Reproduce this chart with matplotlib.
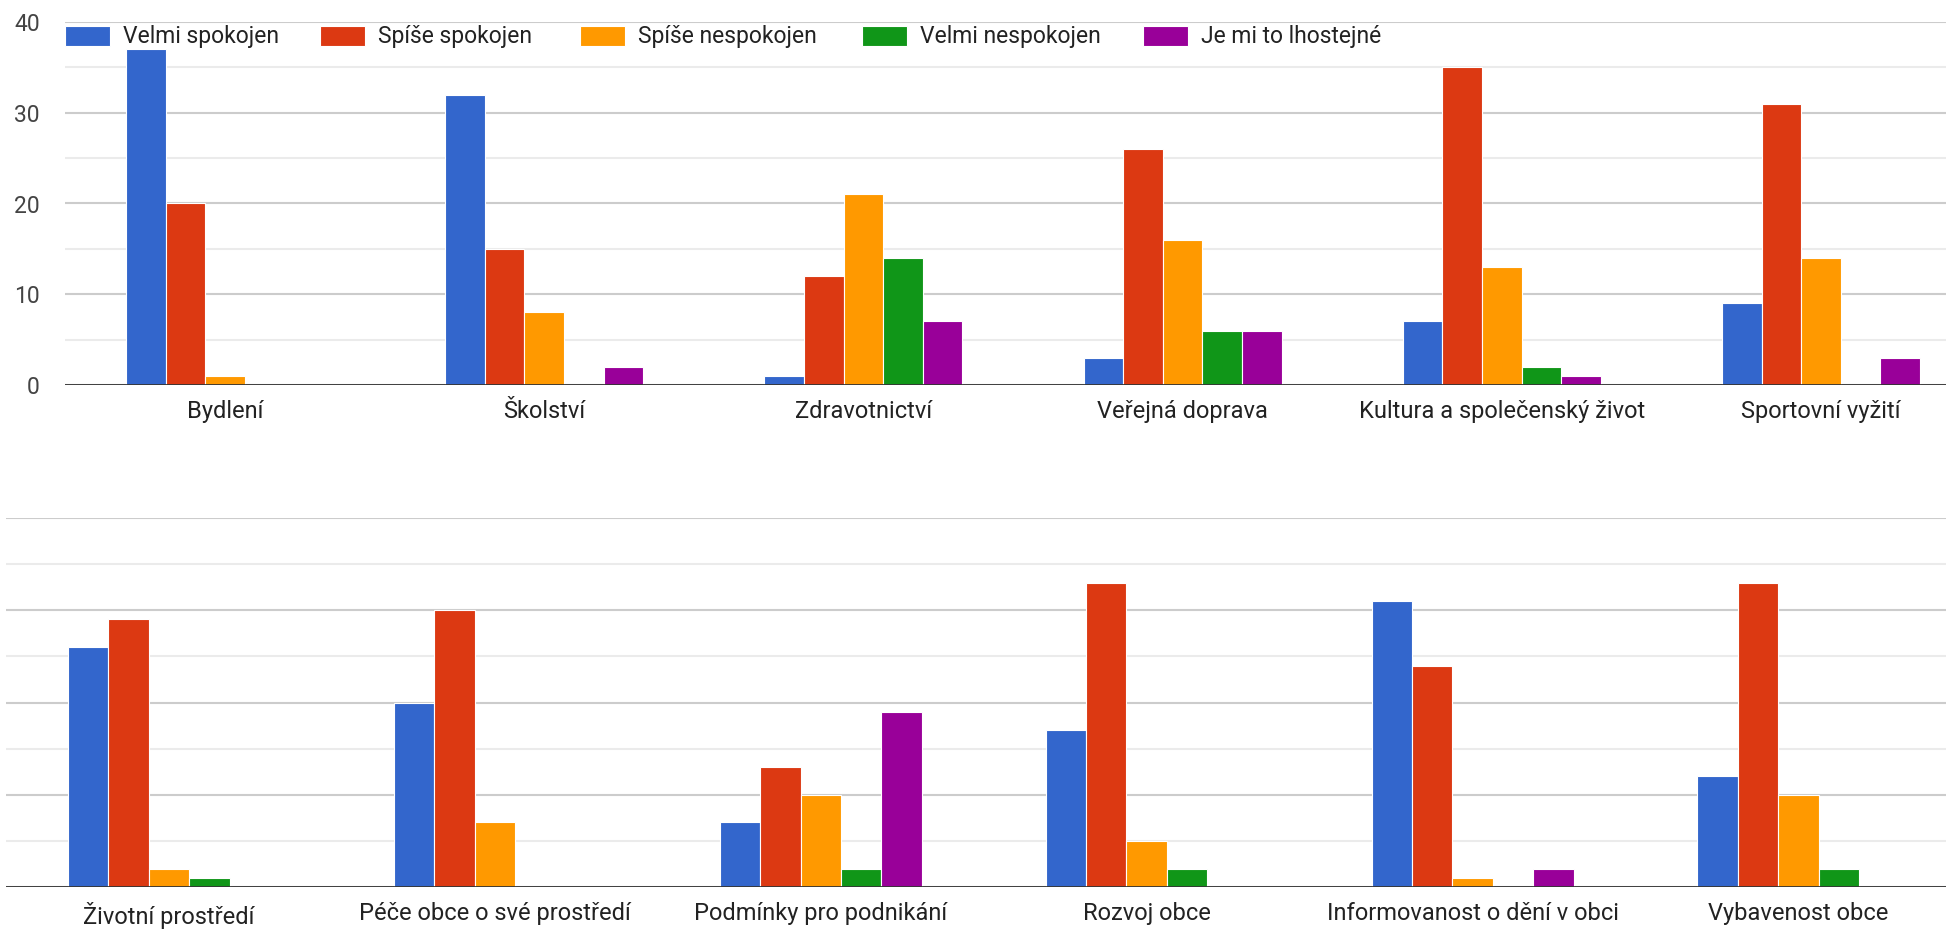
import matplotlib
matplotlib.use("Agg")
import matplotlib.pyplot as plt
from matplotlib.legend import Legend
import numpy as np

plt.rcParams['font.family'] = ['Roboto', 'DejaVu Sans']

series_names = ["Velmi spokojen", "Spíše spokojen", "Spíše nespokojen",
                "Velmi nespokojen", "Je mi to lhostejné"]
colors = ["#3366CC", "#DC3912", "#FF9900", "#109618", "#990099"]

top_categories = ["Bydlení", "Školství", "Zdravotnictví", "Veřejná doprava",
                  "Kultura a společenský život", "Sportovní vyžití"]
top_velmi_spokojen = [37, 32, 1, 3, 7, 9]
top_spise_spokojen = [20, 15, 12, 26, 35, 31]
top_spise_nespokojen = [1, 8, 21, 16, 13, 14]
top_velmi_nespokojen = [0, 0, 14, 6, 2, 0]
top_lhostejne = [0, 2, 7, 6, 1, 3]

bottom_categories = ["Životní prostředí", "Péče obce o své prostředí",
                     "Podmínky pro podnikání", "Rozvoj obce",
                     "Informovanost o dění v obci", "Vybavenost obce"]
bottom_velmi_spokojen = [26, 20, 7, 17, 31, 12]
bottom_spise_spokojen = [29, 30, 13, 33, 24, 33]
bottom_spise_nespokojen = [2, 7, 10, 5, 1, 10]
bottom_velmi_nespokojen = [1, 0, 2, 2, 0, 2]
bottom_lhostejne = [0, 0, 19, 0, 2, 0]

y_ticks = [0, 10, 20, 30, 40]

W, H = 1946, 930
fig = plt.figure(figsize=(W / 100, H / 100), dpi=100)

def fx(px):
    return px / W

def fy(px):
    return 1 - px / H

FS = 16.5
FS_CAT = 17.0
TXT = "#222222"


def draw(ax, cats, data, show_y, xpad):
    n = len(data)
    bw = 0.124
    x = np.arange(len(cats))
    offs = (np.arange(n) - (n - 1) / 2) * bw
    ax.set_ylim(0, 40)
    ax.set_xlim(-0.5, len(cats) - 0.5)
    ax.set_yticks(y_ticks)
    ax.set_yticks([5, 15, 25, 35], minor=True)
    ax.grid(axis='y', which='major', color='#cccccc', linewidth=1.5, zorder=0)
    ax.grid(axis='y', which='minor', color='#ebebeb', linewidth=1.5, zorder=0)
    ax.set_axisbelow(True)
    bars = []
    for i, vals in enumerate(data):
        b = ax.bar(x + offs[i], vals, width=bw, color=colors[i],
                   edgecolor='white', linewidth=0.8, zorder=2,
                   label=series_names[i])
        bars.append(b)
    ax.axhline(0, color='#333333', linewidth=2, zorder=3)
    for s in ax.spines.values():
        s.set_visible(False)
    ax.set_xticks(x)
    ax.set_xticklabels(cats, fontsize=FS_CAT, color=TXT)
    ax.tick_params(axis='x', length=0, pad=xpad)
    ax.tick_params(axis='y', which='both', length=0)
    if show_y:
        ax.tick_params(axis='y', labelsize=FS, labelcolor='#444444', pad=18.5)
    else:
        ax.set_yticklabels([])
    return bars


# top chart
t_left, t_right, t_top, t_bot = 65.4, 1980.6, 22, 385
ax1 = fig.add_axes([fx(t_left), fy(t_bot), fx(t_right - t_left), (t_bot - t_top) / H])
bars_top = draw(ax1, top_categories,
                [top_velmi_spokojen, top_spise_spokojen, top_spise_nespokojen,
                 top_velmi_nespokojen, top_lhostejne], True, 10.8)

# bottom chart
b_left, b_right, b_top, b_bot = 6, 1961.4, 518, 887
ax2 = fig.add_axes([fx(b_left), fy(b_bot), fx(b_right - b_left), (b_bot - b_top) / H])
draw(ax2, bottom_categories,
     [bottom_velmi_spokojen, bottom_spise_spokojen, bottom_spise_nespokojen,
      bottom_velmi_nespokojen, bottom_lhostejne], False, 10.5)

# legend entries placed individually (as in the reference layout)
legend_x_px = [65, 320, 580, 862, 1143]
for i, name in enumerate(series_names):
    leg = Legend(ax1, [bars_top[i]], [name], loc='center left',
                 bbox_to_anchor=(fx(legend_x_px[i]), fy(37)),
                 bbox_transform=fig.transFigure, frameon=False,
                 fontsize=FS, handlelength=1.96, handleheight=0.96,
                 handletextpad=0.57, borderpad=0, borderaxespad=0)
    for t in leg.get_texts():
        t.set_color(TXT)
    leg.set_zorder(5)
    ax1.add_artist(leg)

fig.savefig("out.png", dpi=100, facecolor='white')
